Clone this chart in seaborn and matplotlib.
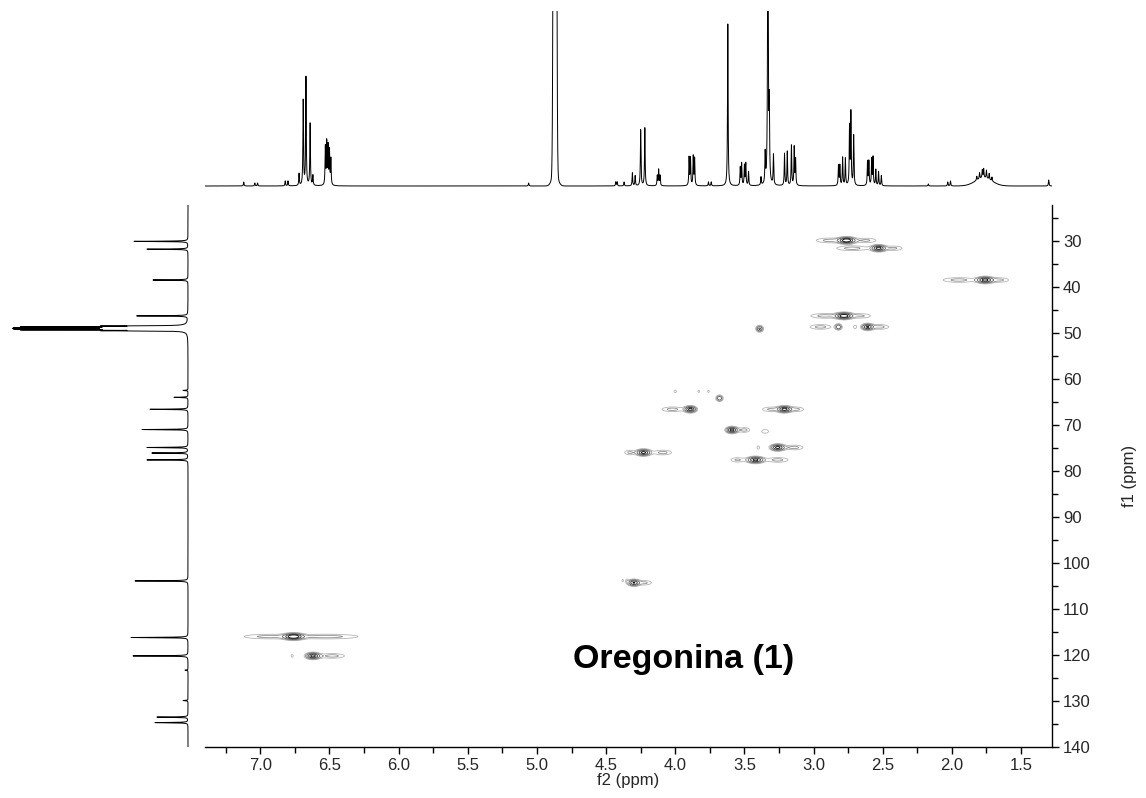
import numpy as np
import pandas as pd
import matplotlib
matplotlib.use('Agg')
import matplotlib.pyplot as plt
from matplotlib.ticker import MultipleLocator, FormatStrFormatter
import seaborn as sns

# 1H projection (top): peak positions (ppm) and heights (px above baseline)
h_ppm = [7.12, 7.04, 7.02, 6.82, 6.80, 6.72, 6.69, 6.67, 6.64, 6.62, 6.53, 6.52, 6.51, 6.50, 6.49,
         5.06, 4.43, 4.42, 4.37, 4.31, 4.29, 4.25, 4.22, 4.13, 4.12, 4.11,
         3.90, 3.89, 3.87, 3.86, 3.76, 3.74, 3.62, 3.53, 3.52, 3.50, 3.49, 3.47,
         3.38, 3.35, 3.33, 3.32, 3.29, 3.21, 3.19, 3.16, 3.14, 3.13,
         2.82, 2.81, 2.79, 2.77, 2.74, 2.73, 2.71, 2.61, 2.60, 2.58, 2.57, 2.55, 2.53, 2.51,
         2.17, 2.03, 2.01, 1.82, 1.80, 1.78, 1.77, 1.75, 1.73, 1.71, 1.30]
h_int = [4, 3, 3, 5, 5, 12, 85, 108, 62, 10, 38, 42, 38, 34, 26,
         3, 4, 4, 4, 13, 10, 56, 58, 10, 16, 10,
         28, 27, 29, 27, 4, 4, 162, 18, 22, 20, 22, 14,
         8, 30, 400, 72, 30, 32, 34, 40, 38, 26,
         20, 20, 28, 27, 58, 72, 50, 24, 24, 26, 28, 16, 14, 10,
         2, 4, 5, 4, 6, 8, 9, 8, 6, 4, 6]
# broad signals: water (HOD) and the H-6 multiplet hump
broad_ppm = [4.87, 4.87, 1.77]
broad_int = [2000, 14, 8]
broad_width = [0.007, 0.02, 0.06]

# 13C projection (left): positions (ppm) and lengths (px)
c_ppm = [30.1, 31.8, 38.5, 46.3, 48.5, 48.67, 48.84, 49.01, 49.18, 49.35, 49.52,
         62.5, 64.0, 66.6, 71.0, 74.9, 76.1, 77.6, 103.9, 116.2, 120.2, 123.3, 129.9, 133.5, 134.7]
c_int = [54, 41, 35, 51, 70, 145, 145, 145, 145, 145, 70,
         5, 14, 38, 46, 41, 36, 41, 53, 57, 55, 3, 5, 31, 33]

# HSQC cross peaks: f2 (1H), f1 (13C), widths and relative intensity
x_pk = [2.76, 2.88, 2.62, 2.53, 2.72, 2.42, 1.76, 1.95, 1.65,
        2.78, 2.92, 2.66, 2.82, 2.95, 2.70, 2.61, 2.52, 3.39,
        4.00, 3.83, 3.76, 3.68, 3.89, 4.02, 3.21, 3.31, 3.12,
        3.59, 3.50, 3.35, 3.26, 3.14, 3.40, 4.23, 4.09, 4.33,
        3.42, 3.26, 3.55, 4.30, 4.22, 4.38, 4.35,
        6.76, 6.52, 6.95, 6.62, 6.48, 6.77]
y_pk = [29.9, 29.9, 29.9, 31.6, 31.6, 31.6, 38.5, 38.5, 38.5,
        46.3, 46.3, 46.3, 48.7, 48.7, 48.7, 48.7, 48.7, 49.1,
        62.7, 62.7, 62.7, 64.2, 66.6, 66.6, 66.6, 66.6, 66.6,
        71.1, 71.1, 71.4, 74.9, 74.9, 74.9, 76.0, 76.0, 76.0,
        77.6, 77.6, 77.6, 104.3, 104.3, 103.8, 103.8,
        116.0, 116.0, 116.0, 120.2, 120.2, 120.2]
sx_pk = [0.035, 0.08, 0.06, 0.03, 0.09, 0.05, 0.035, 0.09, 0.05,
         0.035, 0.08, 0.06, 0.015, 0.06, 0.012, 0.025, 0.05, 0.015,
         0.012, 0.01, 0.01, 0.015, 0.025, 0.06, 0.03, 0.05, 0.04,
         0.025, 0.03, 0.025, 0.03, 0.05, 0.01, 0.03, 0.05, 0.03,
         0.035, 0.06, 0.04, 0.025, 0.04, 0.008, 0.008,
         0.04, 0.18, 0.14, 0.03, 0.07, 0.01]
sy_pk = [0.4] * len(x_pk)
a_pk = [1.0, 0.22, 0.2, 0.9, 0.22, 0.2, 0.9, 0.22, 0.2,
        1.0, 0.22, 0.2, 0.5, 0.22, 0.15, 0.8, 0.22, 0.6,
        0.13, 0.12, 0.12, 0.5, 0.9, 0.22, 0.9, 0.2, 0.2,
        0.9, 0.22, 0.16, 0.9, 0.22, 0.15, 0.9, 0.22, 0.2,
        0.9, 0.22, 0.2, 0.8, 0.2, 0.12, 0.12,
        1.0, 0.22, 0.2, 0.9, 0.22, 0.13]

label = 'Oregonina (1)'
f2_lim = (7.40, 1.276)
f1_lim = (140.0, 22.2)

W, H = 1146, 798
sns.set_theme(style='white')
plt.rcParams['font.family'] = ['Liberation Sans', 'DejaVu Sans']

fig = plt.figure(figsize=(W / 100, H / 100), dpi=100)

def px_axes(l, t, r, b):
    return fig.add_axes([l / W, 1 - b / H, (r - l) / W, (b - t) / H])

ax = px_axes(205, 205, 1052, 747)
ax_top = px_axes(205, 11, 1052, 190)
ax_left = px_axes(0, 205, 190, 747)

# 1D proton trace
xs = np.linspace(f2_lim[0], f2_lim[1], 30000)
spec_h = np.zeros_like(xs)
for p, h in zip(h_ppm, h_int):
    spec_h += h / (1 + ((xs - p) / 0.0025) ** 2)
for p, h, w in zip(broad_ppm, broad_int, broad_width):
    spec_h += h * np.exp(-0.5 * ((xs - p) / w) ** 2)
top_df = pd.DataFrame({'ppm': xs, 'I': spec_h})
sns.lineplot(data=top_df, x='ppm', y='I', ax=ax_top, color='black', lw=0.7,
             estimator=None, sort=False)
ax_top.set_xlim(*f2_lim)
ax_top.set_ylim(-4, 175)
ax_top.axis('off')

# 1D carbon trace
ys = np.linspace(f1_lim[1], f1_lim[0], 40000)
spec_c = np.zeros_like(ys)
for p, h in zip(c_ppm, c_int):
    spec_c += h / (1 + ((ys - p) / 0.05) ** 2)
left_df = pd.DataFrame({'ppm': ys, 'I': spec_c})
sns.lineplot(data=left_df, x='I', y='ppm', ax=ax_left, color='black', lw=0.7,
             estimator=None, sort=False, orient='y')
ax_left.set_xlim(188, -2)
ax_left.set_ylim(*f1_lim)
ax_left.axis('off')

# 2D contour map
gx = np.linspace(f2_lim[0], f2_lim[1], 1400)
gy = np.linspace(f1_lim[1], f1_lim[0], 1200)
X, Y = np.meshgrid(gx, gy)
Z = np.zeros_like(X)
for x0, y0, sx, sy, a in zip(x_pk, y_pk, sx_pk, sy_pk, a_pk):
    Z += a * np.exp(-0.5 * ((X - x0) / sx) ** 2 - 0.5 * ((Y - y0) / sy) ** 2)
levels = [0.1, 0.18, 0.32, 0.55, 0.8]
ax.contour(X, Y, Z, levels=levels,
           colors=['#b4b4b4', '#909090', '#5e5e5e', '#303030', '#000000'],
           linewidths=0.6)
ax.set_xlim(*f2_lim)
ax.set_ylim(*f1_lim)

for s in ['top', 'left']:
    ax.spines[s].set_visible(False)
for s in ['bottom', 'right']:
    ax.spines[s].set_color('black')
    ax.spines[s].set_linewidth(1.0)

ax.xaxis.set_major_locator(MultipleLocator(0.5))
ax.xaxis.set_minor_locator(MultipleLocator(0.25))
ax.xaxis.set_major_formatter(FormatStrFormatter('%.1f'))
ax.yaxis.set_major_locator(MultipleLocator(10))
ax.yaxis.set_minor_locator(MultipleLocator(5))
ax.yaxis.tick_right()
ax.yaxis.set_label_position('right')
ax.tick_params(axis='both', which='major', direction='out', length=5, width=1,
               color='black', labelsize=12, pad=3, bottom=True, right=True,
               left=False, top=False)
ax.tick_params(axis='both', which='minor', direction='out', length=4, width=1,
               color='black', bottom=True, right=True, left=False, top=False)
ax.set_xlabel('f2 (ppm)', fontsize=12, labelpad=0)
ax.set_ylabel('f1 (ppm)', fontsize=12, labelpad=22)

ax.text(3.94, 121.0, label, fontsize=24.5, fontweight='bold', color='black',
        ha='center', va='center')

fig.savefig('out.png', dpi=100)
